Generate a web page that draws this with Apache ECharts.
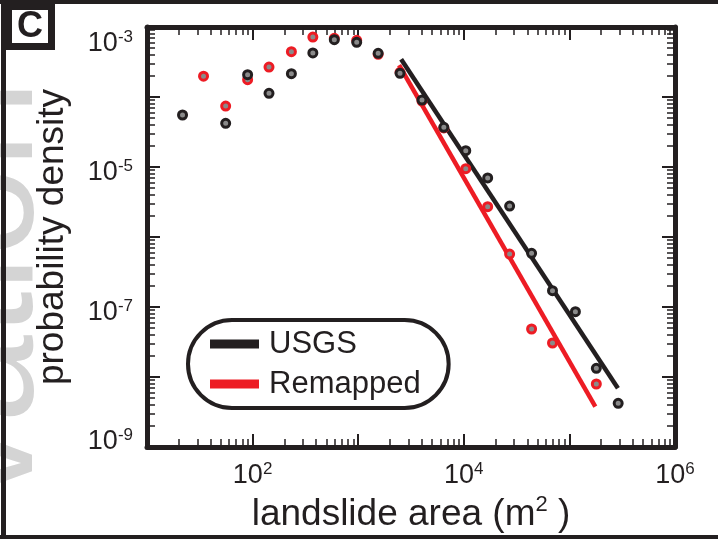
<!DOCTYPE html>
<html>
<head>
<meta charset="utf-8">
<script src="https://cdn.jsdelivr.net/npm/echarts@6/dist/echarts.min.js"></script>
<style>
  html, body { margin: 0; padding: 0; background: #fff; }
  #areaChart { width: 718px; height: 539px; }
</style>
</head>
<body>
<div id="areaChart"></div>
<script>
// landslide area (m^2) vs probability density
const usgsArea = [21.7, 55.6, 89.7, 143, 233, 372, 594, 968, 1545, 2490, 4018, 6471, 10440, 16830, 27160, 43850, 69180, 114000, 179900, 289700];
const usgsDensity = [5.53e-5, 4.21e-5, 2.08e-4, 1.13e-4, 2.15e-4, 4.26e-4, 6.59e-4, 6.04e-4, 4.21e-4, 2.18e-4, 9.06e-5, 3.69e-5, 1.71e-5, 6.97e-6, 2.77e-6, 5.85e-7, 1.71e-7, 8.57e-8, 1.33e-8, 4.21e-9];

const remapArea = [34.3, 55.6, 89.7, 143, 233, 372, 594, 968, 1545, 2490, 4018, 6471, 10440, 16830, 27160, 43850, 69180, 179900];
const remapDensity = [1.98e-4, 7.43e-5, 1.77e-4, 2.68e-4, 4.44e-4, 7.19e-4, 6.90e-4, 6.46e-4, 4.07e-4, 2.25e-4, 8.77e-5, 3.61e-5, 9.46e-6, 2.71e-6, 5.71e-7, 4.85e-8, 3.06e-8, 7.94e-9];

// power-law fits (end points)
const usgsFitArea = [2550, 288000];
const usgsFitDensity = [3.46e-4, 6.9e-9];
const remapFitArea = [2440, 176000];
const remapFitDensity = [2.86e-4, 3.77e-9];

const seriesNames = ['USGS', 'Remapped'];

const BLACK = '#231f20';
const RED = '#ed1c24';
const FONT = '"Liberation Sans", Arial, sans-serif';

const zip = (xs, ys) => xs.map((x, i) => [x, ys[i]]);
const expOf = (v) => Math.round(Math.log10(v));

const supRich = {
  b: {fontSize: 27, color: BLACK, fontFamily: FONT, lineHeight: 30},
  s: {fontSize: 17, color: BLACK, fontFamily: FONT, verticalAlign: 'top', lineHeight: 30},
  g12: {fontSize: 1, lineHeight: 12},
  g34: {fontSize: 1, lineHeight: 34},
  g10: {fontSize: 1, lineHeight: 10}
};

const logAxis = (pos, lo, hi, showLabel, fmt) => ({
  type: 'log',
  logBase: 10,
  position: pos,
  min: lo,
  max: hi,
  interval: 1,
  axisLine: {show: true, onZero: false, lineStyle: {color: BLACK, width: 5}},
  axisTick: {show: true, inside: true, length: 13, lineStyle: {color: BLACK, width: 2}},
  minorTick: {show: true, splitNumber: 9, length: 8, lineStyle: {color: BLACK, width: 1.5}},
  splitLine: {show: false},
  axisLabel: {show: showLabel, margin: 14, formatter: fmt, rich: supRich}
});

const xFmt = (v) => {
  const e = expOf(v);
  return e % 2 === 0 ? '{b|10}{s|' + e + '}' : '';
};
// matlab nudges the labels a bit down, the end ones inwards
const yFmt = (v) => {
  const e = expOf(v);
  if (Math.abs(e) % 2 !== 1) return '';
  const txt = '{b|10}{s|' + e + '}';
  if (e === -3) return '{g34| }\n' + txt;
  if (e === -9) return txt + '\n{g10| }';
  return '{g12| }\n' + txt;
};

let myChart = echarts.init(document.getElementById('areaChart'));
let option = {
  backgroundColor: '#fff',
  animation: false,
  textStyle: {fontFamily: FONT},
  grid: {left: 147, right: 43, top: 27, bottom: 92, containLabel: false, outerBoundsMode: 'none'},
  xAxis: [
    Object.assign(logAxis('bottom', 10, 1e6, true, xFmt), {
      name: '{a|landslide area (m}{s|2}{a| )}',
      nameLocation: 'middle',
      nameGap: 41,
      nameTextStyle: {
        rich: {
          a: {fontSize: 37, color: BLACK, fontFamily: FONT, lineHeight: 40},
          s: {fontSize: 22, color: BLACK, fontFamily: FONT, verticalAlign: 'top', lineHeight: 40}
        }
      }
    }),
    logAxis('top', 10, 1e6, false, () => '')
  ],
  yAxis: [
    Object.assign(logAxis('left', 1e-9, 1e-3, true, yFmt), {
      name: 'probability density',
      nameLocation: 'middle',
      nameGap: 76,
      nameTextStyle: {fontSize: 37, color: BLACK, fontFamily: FONT}
    }),
    logAxis('right', 1e-9, 1e-3, false, () => '')
  ],
  legend: {
    data: seriesNames,
    orient: 'vertical',
    left: 188,
    top: 320,
    icon: 'rect',
    itemWidth: 49,
    itemHeight: 9,
    itemGap: 4,
    padding: [6, 28, 6, 22],
    borderColor: BLACK,
    borderWidth: 4,
    borderRadius: 44,
    selectedMode: false,
    textStyle: {fontSize: 31, color: BLACK, fontFamily: FONT, padding: [0, 0, 0, 5], lineHeight: 36}
  },
  series: [
    {
      name: seriesNames[1],
      type: 'line',
      data: zip(remapFitArea, remapFitDensity),
      showSymbol: false,
      lineStyle: {color: RED, width: 4.5},
      itemStyle: {color: RED},
      z: 2
    },
    {
      name: seriesNames[0],
      type: 'line',
      data: zip(usgsFitArea, usgsFitDensity),
      showSymbol: false,
      lineStyle: {color: BLACK, width: 4.5},
      itemStyle: {color: BLACK},
      z: 3
    },
    {
      name: 'Remapped bins',
      type: 'scatter',
      data: zip(remapArea, remapDensity),
      symbol: 'circle',
      symbolSize: 8,
      itemStyle: {color: '#8a8a8a', borderColor: RED, borderWidth: 3, opacity: 1},
      z: 4
    },
    {
      name: 'USGS bins',
      type: 'scatter',
      data: zip(usgsArea, usgsDensity),
      symbol: 'circle',
      symbolSize: 8,
      itemStyle: {color: '#8a8a8a', borderColor: BLACK, borderWidth: 3, opacity: 1},
      z: 5
    }
  ],
  graphic: [
    // faded text left over from the neighbouring panel
    {
      type: 'text',
      x: 67,
      y: 502,
      rotation: Math.PI / 2,
      z: 0,
      silent: true,
      style: {text: 'vation', fill: '#d4d4d4', fontSize: 158, fontFamily: FONT, align: 'left', verticalAlign: 'bottom'}
    },
    // figure frame
    {type: 'rect', shape: {x: 0, y: 0, width: 718, height: 4}, style: {fill: BLACK}, z: 50},
    {type: 'rect', shape: {x: 1, y: 0, width: 5, height: 539}, style: {fill: BLACK}, z: 50},
    {type: 'rect', shape: {x: 0, y: 535, width: 718, height: 4}, style: {fill: BLACK}, z: 50},
    // panel letter
    {type: 'rect', shape: {x: 8.5, y: 6.5, width: 43, height: 40}, style: {fill: '#fff', stroke: BLACK, lineWidth: 7}, z: 51},
    {
      type: 'text',
      x: 30,
      y: 27,
      z: 52,
      style: {text: 'C', fill: BLACK, fontSize: 36, fontWeight: 'bold', fontFamily: FONT, align: 'center', verticalAlign: 'middle'}
    }
  ]
};
myChart.setOption(option);
</script>
</body>
</html>
